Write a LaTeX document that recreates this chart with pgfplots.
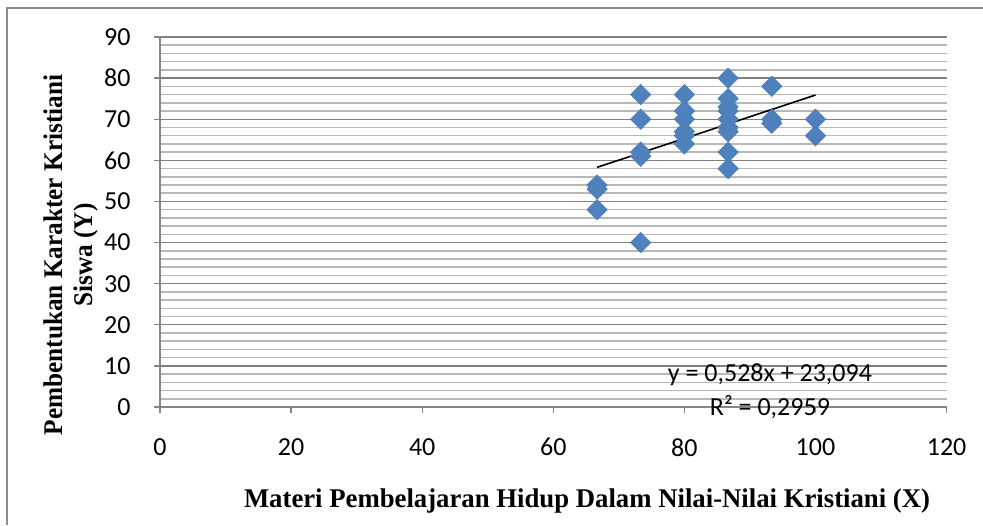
\documentclass[border=0pt]{standalone}
\usepackage{pgfplots}
\pgfplotsset{compat=1.18}
\usepackage{fontspec}
\setmainfont{Carlito}
\newfontfamily\tnr{Liberation Serif}
\definecolor{mk}{HTML}{4F81BD}
\definecolor{mkedge}{HTML}{4A7EBB}
\definecolor{axgray}{HTML}{868686}
\definecolor{majgrid}{HTML}{808080}
\definecolor{mingrid}{HTML}{B8B8B8}
\definecolor{border}{HTML}{8C8C8C}
\begin{document}
\begin{tikzpicture}
\path[use as bounding box] (0,0) rectangle (491.5pt,262.5pt);
\draw[border, line width=0.8pt] (3.5pt,0pt) -- (3.5pt,258.5pt) -- (491.5pt,258.5pt);
\begin{axis}[
  at={(80pt,59pt)}, anchor=south west,
  scale only axis, width=393.3pt, height=185pt,
  xmin=0, xmax=120, ymin=0, ymax=90,
  xtick={0,20,...,120}, ytick={0,10,...,90},
  minor y tick num=4,
  axis x line*=bottom, axis y line*=left,
  axis line style={draw=axgray, line width=0.7pt, -},
  tick style={draw=axgray, line width=0.7pt},
  tick align=outside,
  major tick length=3pt, minor tick length=0pt,
  ymajorgrids, yminorgrids,
  major grid style={draw=majgrid, line width=0.7pt},
  minor grid style={draw=mingrid, line width=0.75pt},
  /pgf/number format/assume math mode=true,
  ticklabel style={font=\fontsize{13}{15}\selectfont},
  yticklabel style={anchor=east, inner sep=0pt, xshift=-11.5pt},
  xticklabel style={anchor=north, inner sep=0pt, yshift=-12.5pt},
  clip=false,
]
\addplot[only marks, mark=square*, mark size=3.6pt,
  mark options={rotate=45, fill=mk, draw=mkedge, line width=0.3pt}]
  coordinates {
  (66.67,54) (66.67,53) (66.67,48)
  (73.33,76) (73.33,70) (73.33,62) (73.33,61) (73.33,40)
  (80,76) (80,72) (80,70) (80,67) (80,66) (80,64)
  (86.67,80) (86.67,75) (86.67,73) (86.67,72) (86.67,70) (86.67,68) (86.67,67) (86.67,62) (86.67,58)
  (93.33,78) (93.33,70) (93.33,69)
  (100,70) (100,66)
  };
\addplot[black, line width=0.8pt] coordinates {(66.67,58.29) (100,75.89)};
\node[font=\fontsize{13}{15}\selectfont, inner sep=0pt] at (axis cs:93.05,7.8) {y = 0,528x + 23,094};
\node[font=\fontsize{13}{15}\selectfont, inner sep=0pt] at (axis cs:93.05,0) {R² = 0,2959};
\end{axis}
\node[rotate=90, font=\tnr\bfseries\fontsize{13.5}{15}\selectfont, inner sep=0pt] at (35.5pt,135pt) {\scalebox{0.935}[1]{\begin{tabular}{@{}c@{}}Pembentukan Karakter Kristiani\\Siswa (Y)\end{tabular}}};
\node[anchor=base, font=\tnr\bfseries\fontsize{13.5}{15}\selectfont, inner sep=0pt] at (293.5pt,9pt) {\scalebox{0.99}[1]{Materi Pembelajaran Hidup Dalam Nilai-Nilai Kristiani (X)}};
\end{tikzpicture}
\end{document}
